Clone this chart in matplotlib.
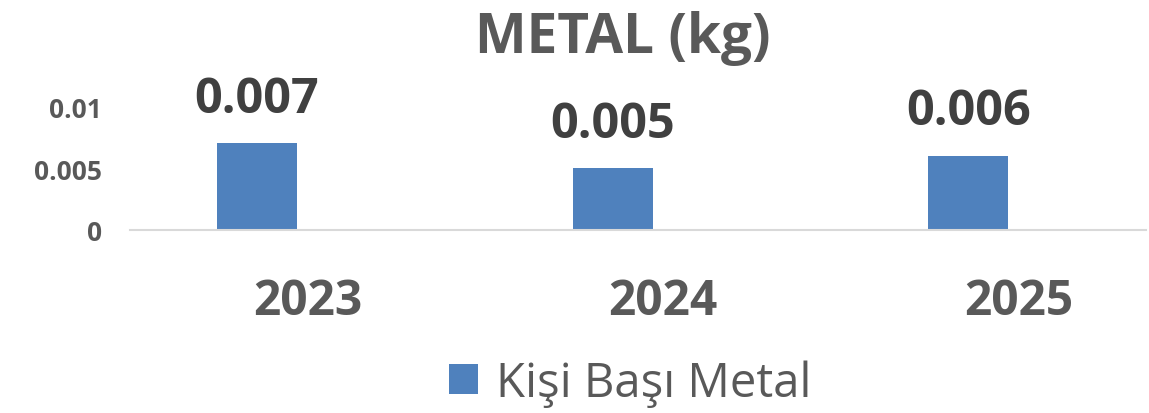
import matplotlib
matplotlib.use("Agg")
from matplotlib import pyplot as plt

years = ["2023", "2024", "2025"]
metal_per_person = [0.007, 0.005, 0.006]
value_labels = ["0.007", "0.005", "0.006"]
yticks = [0, 0.005, 0.01]
ytick_labels = ["0", "0.005", "0.01"]

text_color = "#595959"
bar_color = "#4F81BD"

plt.rcParams["font.family"] = ["Open Sans", "DejaVu Sans"]

fig = plt.figure(figsize=(11.49, 4.14), dpi=100)
ax = fig.add_axes([130 / 1149, (414 - 231) / 414, 1016 / 1149, 123.6 / 414])

x = list(range(len(years)))
bars = ax.bar(x, metal_per_person, width=0.225, color=bar_color,
              label="Kişi Başı Metal", zorder=3)

for bar, lab in zip(bars, value_labels):
    ax.annotate(lab, (bar.get_x() + bar.get_width() / 2, bar.get_height()),
                xytext=(0, 44), textcoords="offset pixels",
                ha="center", va="center", fontsize=35, fontweight="bold",
                color="#404040", annotation_clip=False)

ax.set_xlim(-0.357, 2.50)
ax.set_ylim(0, 0.01)

ax.set_yticks(yticks)
ax.set_yticklabels(ytick_labels, fontsize=19, fontweight="bold", color=text_color)
# the category labels sit a bit right of the bars in the original
ax.set_xticks([i + 0.142 for i in x])
ax.set_xticklabels(years, fontsize=34.5, fontweight="bold", color=text_color)

ax.tick_params(axis="both", length=0)
ax.tick_params(axis="y", pad=20)
ax.tick_params(axis="x", pad=34)

for s in ["top", "right", "left"]:
    ax.spines[s].set_visible(False)
ax.spines["bottom"].set_color("#D9D9D9")
ax.spines["bottom"].set_linewidth(1.5)
ax.spines["bottom"].set_zorder(4)

fig.text(623 / 1149, 1 - 38 / 414, "METAL (kg)", ha="center", va="center",
         fontsize=39.5, fontweight="bold", color=text_color)

fig.legend(handles=[bars], labels=["Kişi Başı Metal"], loc="center",
           bbox_to_anchor=(630 / 1149, 1 - 384 / 414), frameon=False,
           fontsize=34, labelcolor=text_color, handlelength=0.62,
           handleheight=0.62, handletextpad=0.38, borderpad=0,
           borderaxespad=0)

fig.savefig("out.png", dpi=100)
